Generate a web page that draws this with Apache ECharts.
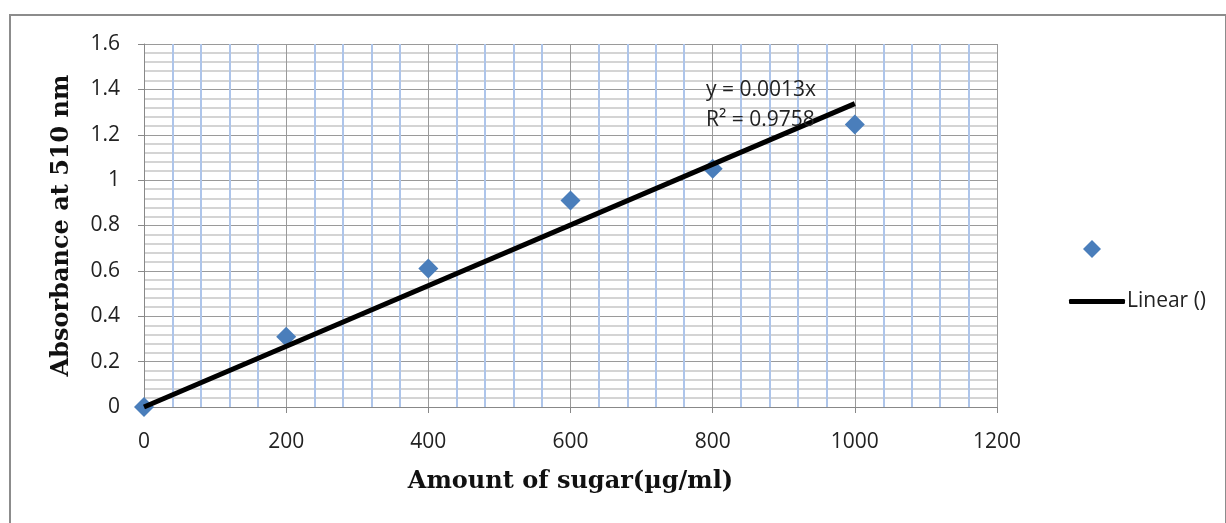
<!DOCTYPE html>
<html>
<head>
<meta charset="utf-8">
<script src="https://cdn.jsdelivr.net/npm/echarts@6/dist/echarts.min.js"></script>
<style>html,body{margin:0;padding:0;background:#fff}#c{width:1226px;height:523px}</style>
</head>
<body>
<div id="c"></div>
<script>
var sugar = [0, 200, 400, 600, 800, 1000];
var absorbance = [0, 0.31, 0.61, 0.91, 1.05, 1.245];
var trendX = [0, 1000];
var trendY = [0, 1.337];
var trendText = ['y = 0.0013x', 'R² = 0.9758'];

var chart = echarts.init(document.getElementById('c'));
var pts = sugar.map(function (x, i) { return [x, absorbance[i]]; });
var tr = trendX.map(function (x, i) { return [x, trendY[i]]; });
var tickFont = { fontFamily: 'Open Sans', fontSize: 21, color: '#222' };
var titleFont = { fontFamily: 'DejaVu Serif', fontWeight: 'bold', fontSize: 24, color: '#111' };
chart.setOption({
  animation: false,
  grid: { left: 144, right: 229, top: 44, bottom: 116 },
  xAxis: {
    type: 'value', min: 0, max: 1200, interval: 200,
    name: 'Amount of sugar(µg/ml)', nameLocation: 'middle', nameGap: 63,
    nameTextStyle: titleFont,
    axisLine: { onZero: false, lineStyle: { color: '#888', width: 1 } },
    axisTick: { show: true, length: 6, lineStyle: { color: '#888' } },
    axisLabel: Object.assign({ margin: 25, formatter: function (v) { return String(v); } }, tickFont),
    splitLine: { show: true, lineStyle: { color: '#9a9a9a', width: 1 } },
    minorTick: { show: false, splitNumber: 5 },
    minorSplitLine: { show: true, lineStyle: { color: '#aec5ea', width: 2 } }
  },
  yAxis: {
    type: 'value', min: 0, max: 1.6, interval: 0.2,
    name: 'Absorbance at 510 nm', nameLocation: 'middle', nameGap: 70,
    nameTextStyle: titleFont,
    axisLine: { show: true, lineStyle: { color: '#888', width: 1 } },
    axisTick: { show: true, length: 6, lineStyle: { color: '#888' } },
    axisLabel: Object.assign({ margin: 24, formatter: function (v) { return String(+v.toFixed(1)); } }, tickFont),
    splitLine: { show: true, lineStyle: { color: '#9a9a9a', width: 1 } },
    minorTick: { show: false, splitNumber: 5 },
    minorSplitLine: { show: true, lineStyle: { color: '#d4d4d4', width: 2 } }
  },
  legend: [
    { data: [{ name: ' ', icon: 'diamond' }], left: 1078, top: 235, itemWidth: 18, itemHeight: 18,
      textStyle: { fontSize: 1 }, selectedMode: false },
    { data: [{ name: 'Linear ()', icon: 'roundRect' }], left: 1064, top: 286, itemWidth: 56, itemHeight: 5,
      itemGap: 0, textStyle: { fontFamily: 'Open Sans', fontSize: 21, color: '#222', padding: [0, 0, 0, -3] }, selectedMode: false }
  ],
  series: [
    { name: ' ', type: 'scatter', data: pts, symbol: 'diamond', symbolSize: 20,
      itemStyle: { color: '#4a7ebb', opacity: 1 }, z: 3 },
    { name: 'Linear ()', type: 'line', data: tr, showSymbol: false, symbol: 'none',
      lineStyle: { color: '#000', width: 5 }, itemStyle: { color: '#000' }, z: 4 }
  ],
  graphic: [
    { type: 'rect', shape: { x: 10, y: 15, width: 1216, height: 520 }, style: { fill: 'none', stroke: '#8c8c8c', lineWidth: 2 }, silent: true },
    { type: 'text', left: 706, top: 80, style: { text: trendText[0], fontFamily: 'Open Sans', fontSize: 21, fill: '#222' }, z: 10 },
    { type: 'text', left: 706, top: 110, style: { text: trendText[1], fontFamily: 'Open Sans', fontSize: 21, fill: '#222' }, z: 10 }
  ]
});
</script>
</body>
</html>
